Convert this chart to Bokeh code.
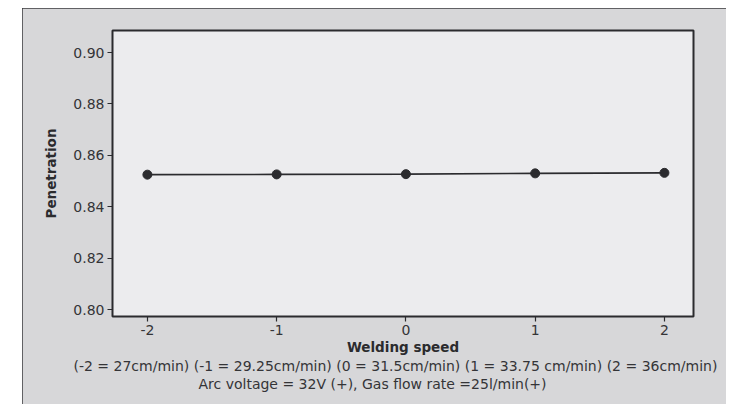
from bokeh.plotting import figure
from bokeh.models import Title, Range1d, FixedTicker, Spacer, PrintfTickFormatter
from bokeh.layouts import row, column
from bokeh.embed import file_html
from bokeh.resources import INLINE

# Data
speed_levels = [-2, -1, 0, 1, 2]
penetration = [0.8525, 0.8526, 0.8527, 0.8530, 0.8532]
y_ticks = [0.80, 0.82, 0.84, 0.86, 0.88, 0.90]
x_ticks = [-2, -1, 0, 1, 2]
x_tick_labels = ["-2", "-1", "0", "1", "2"]
x_title = "Welding speed"
y_title = "Penetration"
note1 = "(-2 = 27cm/min) (-1 = 29.25cm/min) (0 = 31.5cm/min) (1 = 33.75 cm/min) (2 = 36cm/min)"
note2 = "Arc voltage = 32V (+), Gas flow rate =25l/min(+)"

FONT = "DejaVu Sans"
INK = "#2b2b2e"
TXT = "#343437"

p = figure(width=704, height=396, output_backend="svg", toolbar_location=None,
           x_range=Range1d(-2.27, 2.225), y_range=Range1d(0.7973, 0.9086),
           min_border_left=90, min_border_right=33, min_border_top=22, min_border_bottom=88)
p.styles = {"outline": "2px solid #3a3a3c", "outline-offset": "-2px"}

p.background_fill_color = "#ececee"
p.border_fill_color = "#d7d7d9"
p.outline_line_color = INK
p.outline_line_width = 2
p.grid.visible = False

p.line(speed_levels, penetration, line_color=INK, line_width=1.6)
p.scatter(speed_levels, penetration, size=9, color=INK)

for ax in (p.xaxis[0], p.yaxis[0]):
    ax.axis_line_color = None
    ax.major_tick_line_color = INK
    ax.major_tick_line_width = 1.2
    ax.major_tick_in = 0
    ax.major_tick_out = 5
    ax.minor_tick_line_color = None
    ax.major_label_text_font = FONT
    ax.major_label_text_font_size = "14px"
    ax.major_label_text_color = TXT
    ax.axis_label_text_font = FONT
    ax.axis_label_text_font_size = "13.5px"
    ax.axis_label_text_font_style = "bold"
    ax.axis_label_text_color = INK

p.xaxis.ticker = FixedTicker(ticks=x_ticks)
p.xaxis.major_label_overrides = {t: lab for t, lab in zip(x_ticks, x_tick_labels)}
p.yaxis.ticker = FixedTicker(ticks=y_ticks)
p.yaxis.formatter = PrintfTickFormatter(format="%.2f")
p.xaxis.major_label_standoff = 3
p.yaxis.major_label_standoff = 3
p.xaxis.axis_label = x_title
p.yaxis.axis_label = y_title
p.xaxis.axis_label_standoff = 1
p.yaxis.axis_label_standoff = 11

for txt, off, so in ((note1, -39, -3), (note2, 86, 2)):
    p.add_layout(Title(text=txt, align="left", offset=off, standoff=so,
                       text_font=FONT, text_font_size="14px", text_font_style="normal",
                       text_color=TXT), "below")

layout = column(Spacer(height=8), row(Spacer(width=22), p))
open("out.html", "w").write(file_html(layout, INLINE))
